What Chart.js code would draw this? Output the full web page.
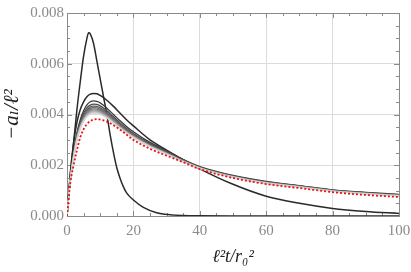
<!DOCTYPE html>
<html>
<head>
<meta charset="utf-8">
<script src="https://cdn.jsdelivr.net/npm/chart.js@4/dist/chart.umd.min.js"></script>
<style>
html,body{margin:0;padding:0;background:#fff;}
#wrap{width:411px;height:272px;position:relative;}
</style>
</head>
<body>
<div id="wrap"><canvas id="c" width="411" height="272"></canvas></div>
<script>
// shared time grid (l^2 t / r0^2)
const tGrid = [0,1,2,3,4,5,6,7,8,9,10,12,14,16,18,20,25,30,35,40,50,60,70,80,90,100];

// tallest, narrow curve
const tallT = [0,1,2,3,4,5,6,6.5,7,8,9,10,11,12,13,14,15,16,17,18,20,23,27,31,35,40,50,60,80,100];
const tallY = [0,0.0016,0.0029,0.0042,0.0053,0.0063,0.0070,0.00722,0.00718,0.0068,0.0061,0.0054,0.0047,0.0040,0.0032,0.0025,0.0019,0.00148,0.00115,0.0009,0.00063,0.00034,0.00013,0.00005,0.00002,0.00001,0,0,0,0];

// second curve (peak ~0.0048)
const secondY = [0,0.00170,0.00290,0.00370,0.00420,0.00450,0.00470,0.00480,0.00483,0.00482,0.00475,0.00456,0.00432,0.00405,0.00378,0.00355,0.00300,0.00260,0.00222,0.00186,0.00125,0.00078,0.00050,0.00030,0.00018,0.00010];

// family of gray curves, darkest to lightest
const fam1  = [0,0.00150,0.00250,0.00330,0.00380,0.00415,0.00438,0.00450,0.00454,0.00452,0.00446,0.00425,0.00400,0.00375,0.00352,0.00332,0.00290,0.00257,0.00222,0.00195,0.00160,0.00136,0.00120,0.00103,0.00093,0.00085];
const fam2  = [0,0.00148,0.00246,0.00323,0.00371,0.00404,0.00426,0.00437,0.00441,0.00440,0.00434,0.00415,0.00391,0.00367,0.00345,0.00325,0.00285,0.00253,0.00220,0.00193,0.00158,0.00134,0.00119,0.00102,0.00092,0.00084];
const fam3  = [0,0.00146,0.00243,0.00318,0.00365,0.00397,0.00418,0.00429,0.00433,0.00432,0.00426,0.00408,0.00385,0.00362,0.00340,0.00321,0.00282,0.00251,0.00219,0.00192,0.00157,0.00133,0.00118,0.00101,0.00091,0.00083];
const fam4  = [0,0.00145,0.00241,0.00314,0.00360,0.00391,0.00412,0.00423,0.00427,0.00426,0.00420,0.00403,0.00380,0.00358,0.00337,0.00318,0.00280,0.00249,0.00218,0.00191,0.00156,0.00132,0.00117,0.00100,0.00090,0.00082];
const fam5  = [0,0.00144,0.00239,0.00311,0.00356,0.00387,0.00407,0.00418,0.00422,0.00421,0.00416,0.00399,0.00377,0.00355,0.00334,0.00316,0.00278,0.00248,0.00217,0.00190,0.00155,0.00131,0.00116,0.00100,0.00089,0.00081];
const fam6  = [0,0.00143,0.00237,0.00308,0.00353,0.00383,0.00403,0.00414,0.00418,0.00417,0.00412,0.00395,0.00374,0.00352,0.00332,0.00314,0.00277,0.00247,0.00216,0.00190,0.00155,0.00131,0.00116,0.00099,0.00089,0.00081];
const fam7  = [0,0.00142,0.00236,0.00306,0.00350,0.00380,0.00399,0.00410,0.00414,0.00413,0.00408,0.00392,0.00371,0.00350,0.00330,0.00312,0.00276,0.00246,0.00215,0.00189,0.00154,0.00130,0.00115,0.00099,0.00088,0.00080];
const fam8  = [0,0.00141,0.00235,0.00304,0.00348,0.00377,0.00396,0.00407,0.00411,0.00410,0.00405,0.00390,0.00369,0.00348,0.00329,0.00311,0.00275,0.00245,0.00215,0.00189,0.00154,0.00130,0.00115,0.00098,0.00088,0.00080];
const fam9  = [0,0.00140,0.00234,0.00302,0.00346,0.00375,0.00393,0.00404,0.00408,0.00407,0.00403,0.00388,0.00367,0.00347,0.00328,0.00310,0.00274,0.00244,0.00214,0.00188,0.00153,0.00129,0.00114,0.00098,0.00088,0.00080];
const fam10 = [0,0.00139,0.00233,0.00300,0.00344,0.00373,0.00391,0.00401,0.00405,0.00404,0.00400,0.00386,0.00365,0.00345,0.00326,0.00309,0.00273,0.00243,0.00213,0.00188,0.00153,0.00129,0.00114,0.00097,0.00087,0.00079];

// limiting curve (red dotted)
const limitY = [0,0.00130,0.00200,0.00260,0.00310,0.00342,0.00362,0.00374,0.00380,0.00382,0.00380,0.00372,0.00358,0.00340,0.00320,0.00300,0.00265,0.00238,0.00212,0.00185,0.00150,0.00126,0.00110,0.00094,0.00083,0.00075];

const xTicks = [0,20,40,60,80,100];
const yTicks = [0.000,0.002,0.004,0.006,0.008];

const families = [fam1,fam2,fam3,fam4,fam5,fam6,fam7,fam8,fam9,fam10];
const famColors = ['#3a3a3a','#4a4a4a','#5a5a5a','#6a6a6a','#7a7a7a','#8c8c8c','#9e9e9e','#b0b0b0','#c4c4c4','#d8d8d8'];

function pts(xs, ys){ return xs.map((x,i)=>({x:x, y:ys[i]})); }

const datasets = [];
datasets.push({data: pts(tGrid, limitY), borderColor:'#ee1111', borderWidth:1.8, borderDash:[2,2], order:0});
families.forEach((f,i)=>{
  datasets.push({data: pts(tGrid, f), borderColor: famColors[i], borderWidth:1.3, order: 20 - i});
});
datasets.push({data: pts(tGrid, secondY), borderColor:'#2a2a2a', borderWidth:1.5, order:30});
datasets.push({data: pts(tallT, tallY), borderColor:'#2a2a2a', borderWidth:1.5, order:31});

const framePlugin = {
  id:'frame',
  beforeDatasetsDraw(chart){
    const {ctx, chartArea:a, scales:{x, y}} = chart;
    ctx.save();
    ctx.strokeStyle = '#8a8a8a';
    ctx.lineWidth = 1;
    ctx.beginPath();
    // minor & major ticks, drawn inward
    for(let v=0; v<=100.001; v+=5){
      const px = Math.round(x.getPixelForValue(v))+0.5;
      const len = (Math.abs(v%20)<1e-6) ? 5 : 3;
      ctx.moveTo(px, a.bottom); ctx.lineTo(px, a.bottom-len);
      ctx.moveTo(px, a.top); ctx.lineTo(px, a.top+len);
    }
    for(let k=0; k<=16; k++){
      const v = k*0.0005;
      const py = Math.round(y.getPixelForValue(v))+0.5;
      const len = (k%4===0) ? 5 : 3;
      ctx.moveTo(a.left, py); ctx.lineTo(a.left+len, py);
      ctx.moveTo(a.right, py); ctx.lineTo(a.right-len, py);
    }
    ctx.stroke();
    ctx.strokeRect(Math.round(a.left)+0.5, Math.round(a.top)+0.5, Math.round(a.right-a.left), Math.round(a.bottom-a.top));
    ctx.restore();
  }
};

const serif = "'Liberation Serif', 'DejaVu Serif', serif";

new Chart(document.getElementById('c'), {
  type:'line',
  data:{datasets},
  options:{
    responsive:false,
    animation:false,
    devicePixelRatio:1,
    layout:{padding:{top:13,right:12,left:0,bottom:0}},
    elements:{point:{radius:0}, line:{cubicInterpolationMode:'monotone', tension:0.4}},
    plugins:{legend:{display:false}, tooltip:{enabled:false}},
    scales:{
      x:{
        type:'linear', min:0, max:100,
        afterBuildTicks(s){ s.ticks = xTicks.map(v=>({value:v})); },
        ticks:{color:'#8a8a8a', font:{family:serif, size:15}, padding:6, maxRotation:0, callback:v=>String(v)},
        grid:{color:'#dcdcdc', lineWidth:1, tickLength:0, drawTicks:false},
        border:{display:false},
        title:{display:true, text:'ℓ²t/r₀²', color:'#222', font:{family:serif, size:18, style:'italic'}, padding:{top:2,bottom:4}},
        afterFit(s){ s.height = 56; s.paddingLeft = 0; s.paddingRight = 0; }
      },
      y:{
        type:'linear', min:0, max:0.008,
        afterBuildTicks(s){ s.ticks = yTicks.map(v=>({value:v})); },
        ticks:{color:'#8a8a8a', font:{family:serif, size:15}, padding:3, callback:v=>Number(v).toFixed(3)},
        grid:{color:'#dcdcdc', lineWidth:1, tickLength:0, drawTicks:false},
        border:{display:false},
        title:{display:true, text:'−aₗ/ℓ²', color:'#222', font:{family:serif, size:21, style:'italic'}, padding:{top:0,bottom:1}},
        afterFit(s){ s.width = 67; s.paddingTop = 0; s.paddingBottom = 0; }
      }
    }
  },
  plugins:[framePlugin]
});
</script>
</body>
</html>
